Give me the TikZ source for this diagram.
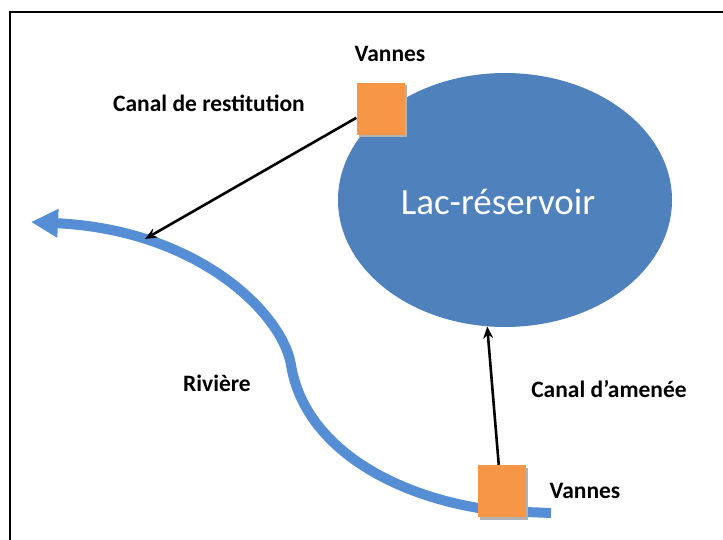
\documentclass[tikz,border=0pt]{standalone}
\usepackage{fontspec}
\setmainfont{Carlito}
\usetikzlibrary{shapes.geometric,arrows.meta,calc}
\definecolor{lakeblue}{HTML}{4F81BD}
\definecolor{riverblue}{HTML}{558ED5}
\definecolor{gateorange}{HTML}{F79646}
\tikzset{
  gate/.style={fill=gateorange, minimum width=48pt, minimum height=52pt, inner sep=0pt},
  gateshadow/.style={fill=black!30, minimum width=48pt, minimum height=52pt, inner sep=0pt},
  lbl/.style={font=\bfseries\fontsize{23.5}{28}\selectfont, inner sep=0pt},
  link/.style={line width=2.6pt, -{Stealth[length=12pt,width=10pt]}},
}
\begin{document}
\begin{tikzpicture}[x=1pt,y=-1pt]
\useasboundingbox (0,0) rectangle (723,540);
% frame
\draw[line width=2pt] (10,541) -- (10,12) -- (724,12);
% lake
\node[ellipse, fill=lakeblue, minimum width=334pt, minimum height=254pt, inner sep=0pt] (lac) at (505,200) {};
\node[text=white, font=\fontsize{37}{44}\selectfont, inner sep=0pt] (lact) at (498,202) {Lac-réservoir};
% river
\coordinate (r0) at (551,513);
\coordinate (r1) at (500,511);
\coordinate (r2) at (291,365);
\coordinate (r3) at (31,222);
\draw[riverblue, line width=10pt, -{Triangle[length=27pt,width=27pt]}]
  (r0) -- (r1) .. controls (400,500) and (305,450) .. (r2)
  .. controls (283,315) and (200,230) .. (r3);
\coordinate (rv) at (145,239);
% gates
\node[gateshadow] (sh1) at (382.5,111.5) {};
\node[gate] (sq1) at (380.5,109) {};
\node[gateshadow] (sh2) at (503.5,493.5) {};
\node[gate] (sq2) at (501.5,491) {};
% connectors
\draw[link] (sq1.200) -- (rv);
\draw[link] (sq2.96) -- (lac.-98);
% labels
\node[lbl] (v1) at (390,54) {Vannes};
\node[lbl] (cr) at (209,103) {Canal de restitution};
\node[lbl] (v2) at (585,491) {Vannes};
\node[lbl] (ca) at (609,389) {Canal d’amenée};
\node[lbl] (rivl) at (217,383) {Rivière};
\end{tikzpicture}
\end{document}
